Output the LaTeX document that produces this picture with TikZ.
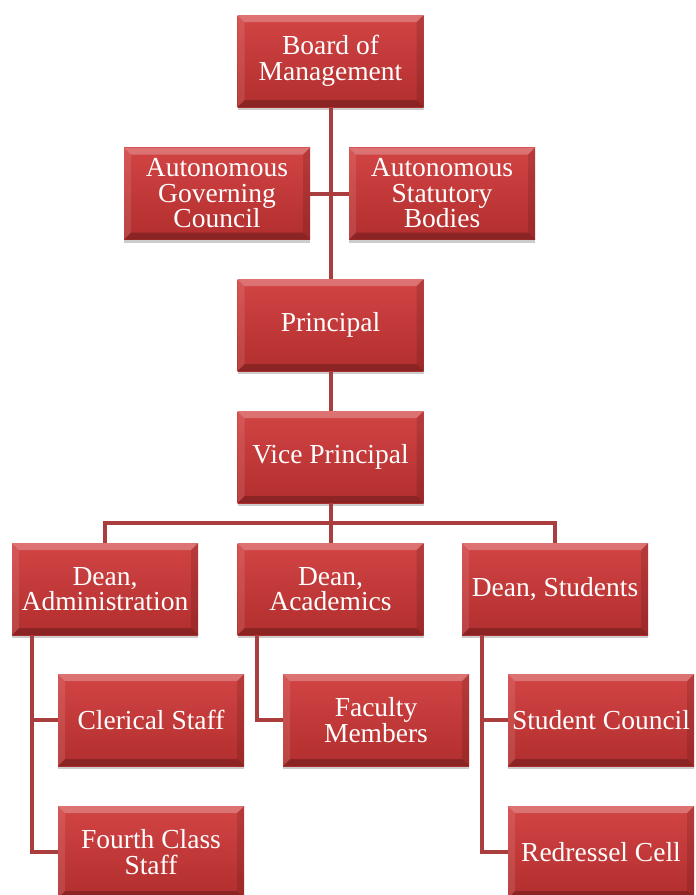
\documentclass[tikz,border=0pt]{standalone}
\usepackage{fontspec}
\setmainfont{Liberation Serif}
\usetikzlibrary{shadows,calc}
\definecolor{facetop}{RGB}{210,68,68}
\definecolor{facebot}{RGB}{178,46,46}
\definecolor{linec}{RGB}{170,62,62}
\tikzset{
  box/.style={minimum width=186pt, minimum height=92pt, inner sep=0pt, text=white,
    align=center, font=\fontsize{27.5}{25.5}\selectfont,
    top color=facetop, bottom color=facebot,
    drop shadow={shadow xshift=0pt, shadow yshift=-3pt, opacity=0.2, fill=black},
    path picture={
      \fill[white,opacity=0.25] (path picture bounding box.north west) -- (path picture bounding box.north east)
        -- ([xshift=-7pt,yshift=-7pt]path picture bounding box.north east) -- ([xshift=7pt,yshift=-7pt]path picture bounding box.north west) -- cycle;
      \fill[black,opacity=0.22] (path picture bounding box.south west) -- (path picture bounding box.south east)
        -- ([xshift=-7pt,yshift=7pt]path picture bounding box.south east) -- ([xshift=7pt,yshift=7pt]path picture bounding box.south west) -- cycle;
      \fill[white,opacity=0.1] (path picture bounding box.south west) -- (path picture bounding box.north west)
        -- ([xshift=7pt,yshift=-7pt]path picture bounding box.north west) -- ([xshift=7pt,yshift=7pt]path picture bounding box.south west) -- cycle;
      \fill[black,opacity=0.12] (path picture bounding box.south east) -- (path picture bounding box.north east)
        -- ([xshift=-7pt,yshift=-7pt]path picture bounding box.north east) -- ([xshift=-7pt,yshift=7pt]path picture bounding box.south east) -- cycle;
    }},
  conn/.style={draw=linec, line width=4pt}
}
\begin{document}
\begin{tikzpicture}[x=1pt,y=-1pt]
\useasboundingbox (0,0) rectangle (696,895);
\node[box] (board) at (330.5,61) {Board of\\Management};
\node[box] (agc) at (217,193.5) {Autonomous\\Governing\\Council};
\node[box] (asb) at (442,193.5) {Autonomous\\Statutory\\Bodies};
\node[box] (prin) at (330.5,325) {Principal};
\node[box] (vp) at (330.5,457) {Vice Principal};
\node[box] (dad) at (105,589) {Dean,\\Administration};
\node[box] (dac) at (330.5,589) {Dean,\\Academics};
\node[box] (dst) at (555,589) {Dean, Students};
\node[box] (cler) at (151,720) {Clerical Staff};
\node[box] (four) at (151,852) {Fourth Class\\Staff};
\node[box] (fac) at (376,720) {Faculty\\Members};
\node[box] (stc) at (601,720) {Student Council};
\node[box] (red) at (601,852) {Redressel Cell};
\draw[conn] (board.south) -- (prin.north);
\draw[conn] (agc.east) -- (asb.west);
\draw[conn] (prin.south) -- (vp.north);
\coordinate (bus) at ($(vp.south)!0.5!(dac.north)$);
\draw[conn] (vp.south) -- (bus) -| (dad.north);
\draw[conn] (bus) -| (dst.north);
\draw[conn] (bus) -- (dac.north);
\draw[conn] ([xshift=20pt]dad.south west) |- (cler.west);
\draw[conn] ([xshift=20pt]dad.south west) |- (four.west);
\draw[conn] ([xshift=20pt]dac.south west) |- (fac.west);
\draw[conn] ([xshift=20pt]dst.south west) |- (stc.west);
\draw[conn] ([xshift=20pt]dst.south west) |- (red.west);
\end{tikzpicture}
\end{document}
